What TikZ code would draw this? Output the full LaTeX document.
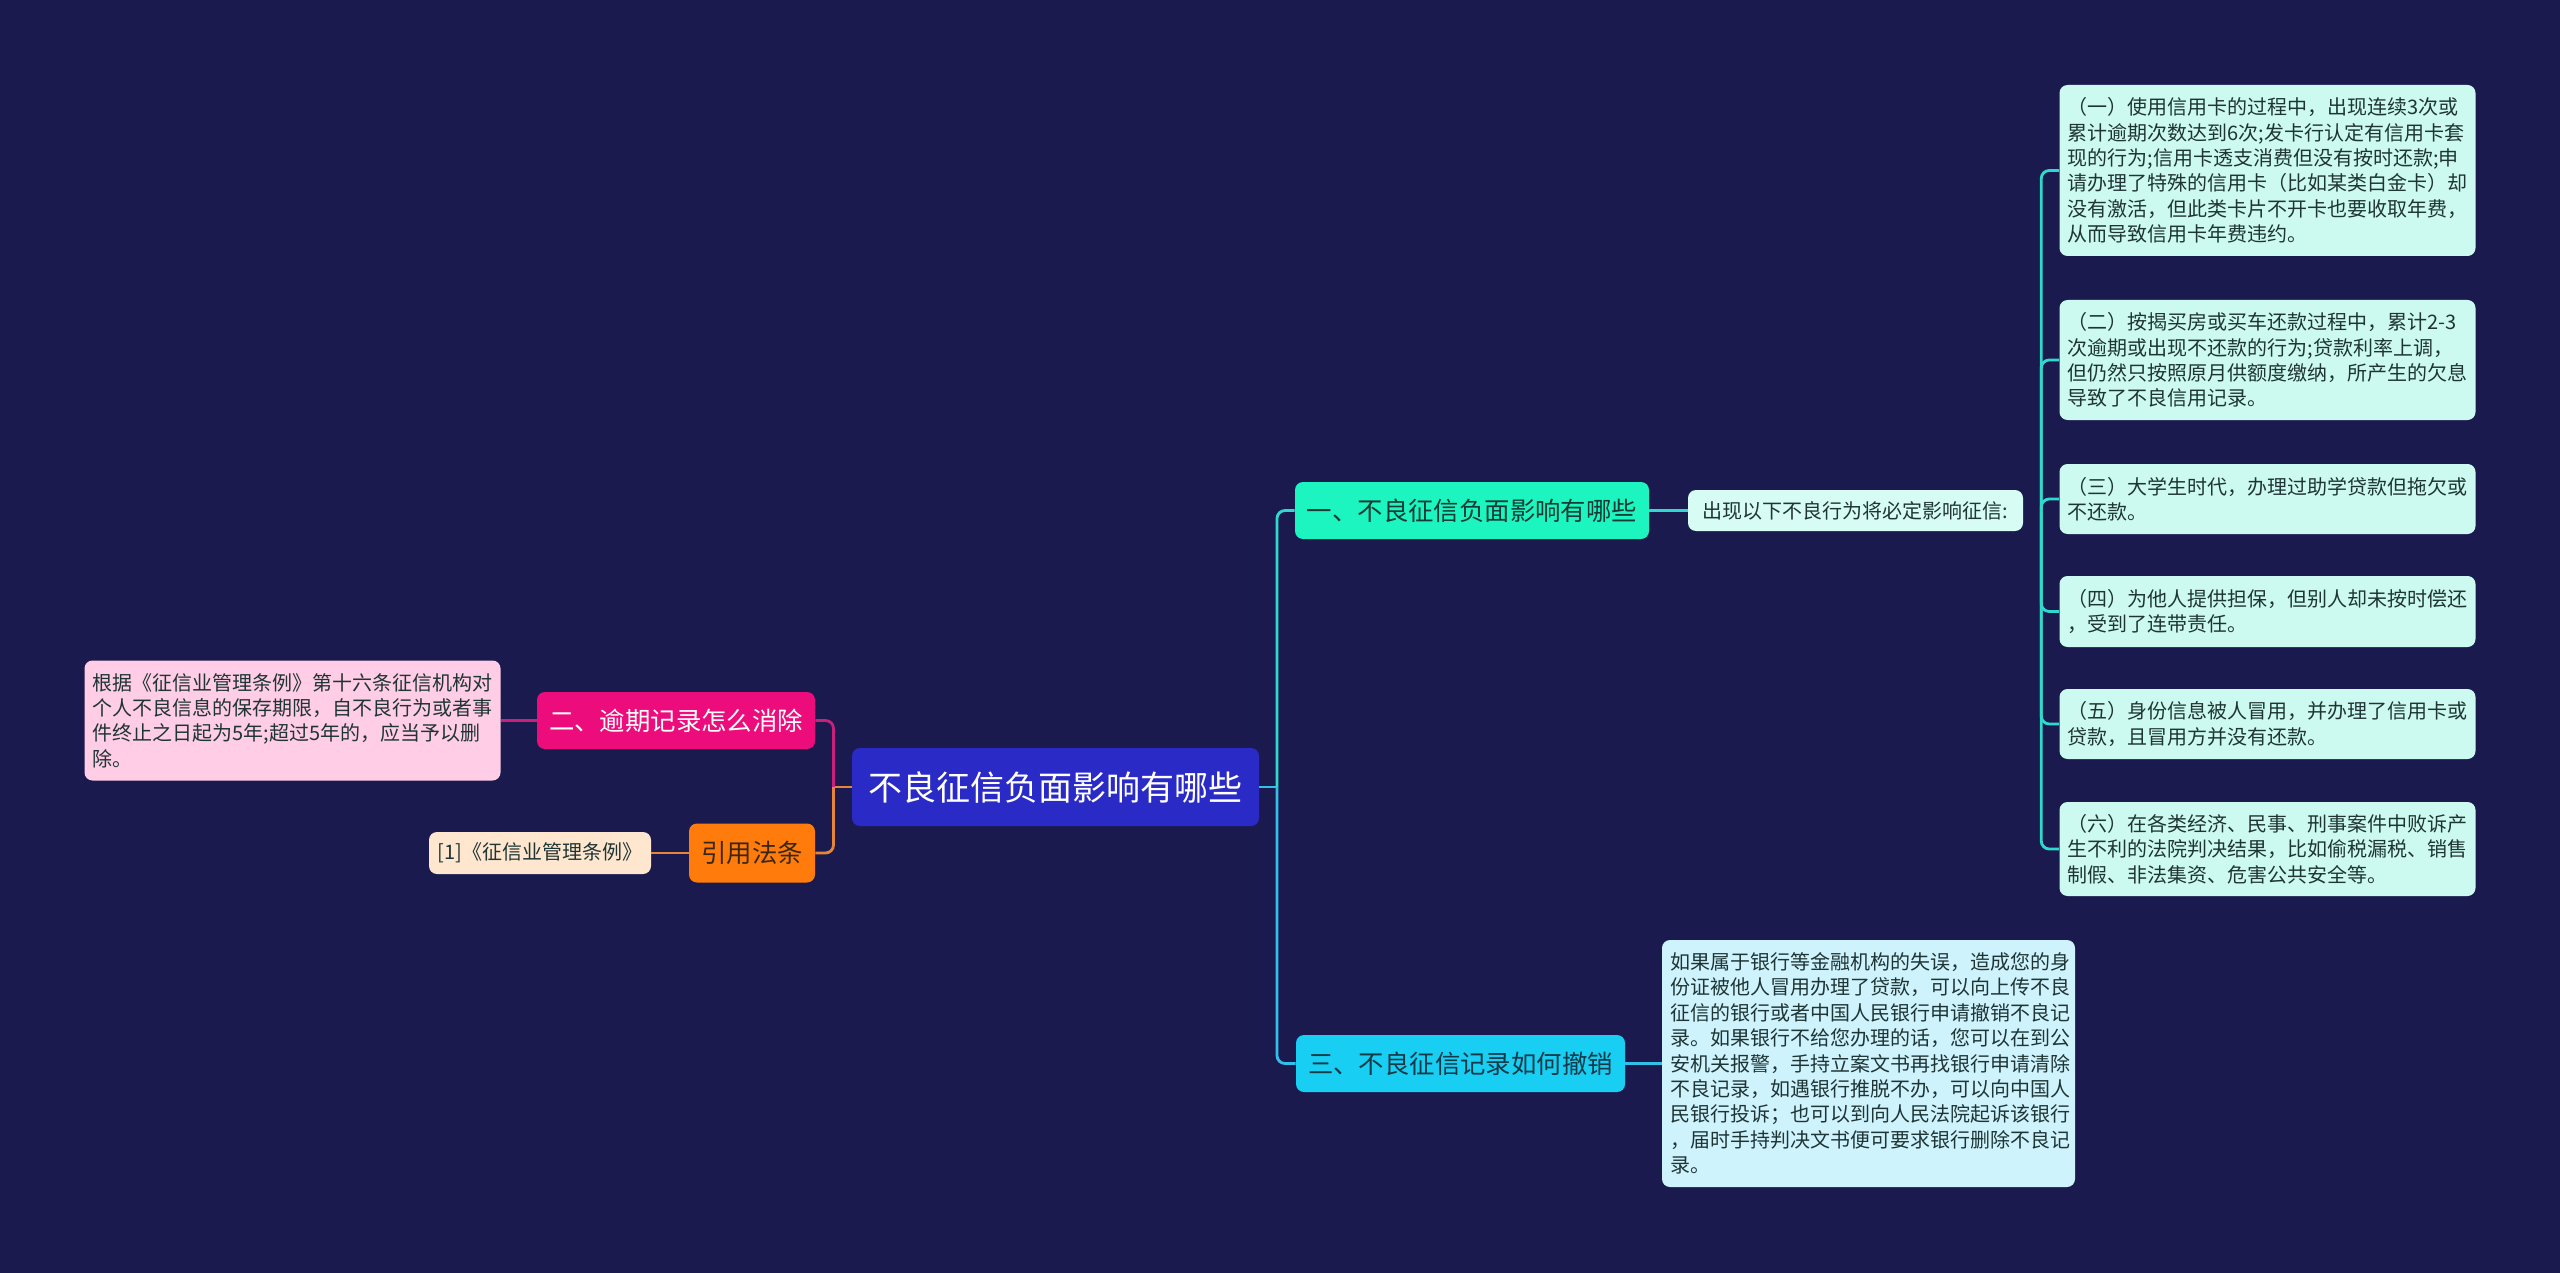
\documentclass[tikz,border=0pt]{standalone}
\usepackage{fontspec}
\setmainfont{Noto Sans CJK SC}
\usepackage{xcolor}
\usepackage{tikz}
\usetikzlibrary{positioning,calc}
\definecolor{bgnavy}{HTML}{1B1A4F}
\definecolor{rootblue}{HTML}{2A2AC6}
\definecolor{mintA}{HTML}{1DF5C0}
\definecolor{inkA}{HTML}{163B34}
\definecolor{hotpink}{HTML}{EC0C7C}
\definecolor{tangerine}{HTML}{FF7B0B}
\definecolor{inkC}{HTML}{3B2710}
\definecolor{skyblue}{HTML}{18CEF2}
\definecolor{inkB}{HTML}{123A48}
\definecolor{mintpale}{HTML}{D6FCF3}
\definecolor{mintleaf}{HTML}{CCFAF0}
\definecolor{iceblue}{HTML}{CFF3FD}
\definecolor{blush}{HTML}{FFCDE6}
\definecolor{peach}{HTML}{FFE7CF}
\definecolor{inkleaf}{HTML}{1F3535}
\definecolor{tealline}{HTML}{2FD9CC}
\definecolor{cyanline}{HTML}{34BFEA}
\definecolor{pinkline}{HTML}{C9207C}
\definecolor{orangeline}{HTML}{E6843A}

\begin{document}
\begin{tikzpicture}[
    x=0.5pt, y=-0.5pt,
    rootbox/.style={fill=rootblue, text=white, rounded corners=4pt, minimum width=203.5pt, minimum height=39pt, font=\fontsize{17}{20}\selectfont},
    topic/.style={rounded corners=4pt, align=center, minimum height=28.5pt, inner sep=2pt, font=\fontsize{12.7}{15}\selectfont},
    note/.style={rounded corners=4pt, text=inkleaf, align=center, inner sep=2pt, font=\fontsize{10}{12}\selectfont},
    leaf/.style={rounded corners=4pt, text=inkleaf, align=left, text width=200pt, inner xsep=4pt, inner ysep=4pt, font=\fontsize{10}{12.7}\selectfont},
    link/.style={line width=1.4pt, rounded corners=4pt}
]
    \fill[bgnavy] (0,0) rectangle (2560,1273);
    \useasboundingbox (0,0) rectangle (2560,1273);

    % centre
    \node[rootbox] (root) at (1055.5,787) {不良征信负面影响有哪些};

    % main branches
    \node[topic, fill=mintA, text=inkA, minimum width=177pt] (neg) at (1472,510.5) {一、不良征信负面影响有哪些};
    \node[topic, fill=hotpink, text=white, minimum width=139pt] (erase) at (676,720.5) {二、逾期记录怎么消除};
    \node[topic, fill=tangerine, text=inkC, minimum width=63pt, minimum height=29.5pt] (law) at (752,853) {引用法条};
    \node[topic, fill=skyblue, text=inkB, minimum width=164.5pt] (revoke) at (1460.5,1063.5) {三、不良征信记录如何撤销};

    % details
    \node[note, fill=mintpale, minimum width=167.5pt, minimum height=20.5pt] (cause) at (1855.5,510.5) {出现以下不良行为将必定影响征信:};
    \node[note, fill=peach, minimum width=111pt, minimum height=21pt] (ref) at (540,853) {[1]《征信业管理条例》};

    \node[leaf, fill=mintleaf, minimum height=85.5pt] (c1) at (2267.5,170.5) {（一）使用信用卡的过程中，出现连续3次或\\累计逾期次数达到6次;发卡行认定有信用卡套\\现的行为;信用卡透支消费但没有按时还款;申\\请办理了特殊的信用卡（比如某类白金卡）却\\没有激活，但此类卡片不开卡也要收取年费，\\从而导致信用卡年费违约。};
    \node[leaf, fill=mintleaf, minimum height=60pt] (c2) at (2267.5,360) {（二）按揭买房或买车还款过程中，累计2-3\\次逾期或出现不还款的行为;贷款利率上调，\\但仍然只按照原月供额度缴纳，所产生的欠息\\导致了不良信用记录。};
    \node[leaf, fill=mintleaf, minimum height=35pt] (c3) at (2267.5,499) {（三）大学生时代，办理过助学贷款但拖欠或\\不还款。};
    \node[leaf, fill=mintleaf, minimum height=35.5pt] (c4) at (2267.5,611.5) {（四）为他人提供担保，但别人却未按时偿还\\，受到了连带责任。};
    \node[leaf, fill=mintleaf, minimum height=35pt] (c5) at (2267.5,724) {（五）身份信息被人冒用，并办理了信用卡或\\贷款，且冒用方并没有还款。};
    \node[leaf, fill=mintleaf, minimum height=47pt] (c6) at (2267.5,849) {（六）在各类经济、民事、刑事案件中败诉产\\生不利的法院判决结果，比如偷税漏税、销售\\制假、非法集资、危害公共安全等。};

    \node[leaf, fill=iceblue, text width=198.5pt, minimum height=123.5pt] (undo) at (1868.5,1063.5) {如果属于银行等金融机构的失误，造成您的身\\份证被他人冒用办理了贷款，可以向上传不良\\征信的银行或者中国人民银行申请撤销不良记\\录。如果银行不给您办理的话，您可以在到公\\安机关报警，手持立案文书再找银行申请清除\\不良记录，如遇银行推脱不办，可以向中国人\\民银行投诉；也可以到向人民法院起诉该银行\\，届时手持判决文书便可要求银行删除不良记\\录。};

    \node[leaf, fill=blush, minimum height=60pt] (keep) at (292.5,720.5) {根据《征信业管理条例》第十六条征信机构对\\个人不良信息的保存期限，自不良行为或者事\\件终止之日起为5年;超过5年的，应当予以删\\除。};

    % right side links
    \path (root.east) -- (neg.west |- root.east) coordinate[midway] (rj);
    \draw[link, draw=cyanline] (root.east) -- (rj);
    \draw[link, draw=tealline] (rj) |- (neg.west);
    \draw[link, draw=cyanline] (rj) |- (revoke.west);
    \draw[link, draw=tealline] (neg) -- (cause);
    \draw[link, draw=cyanline] (revoke) -- (undo);
    \path (cause.east) -- (c1.west |- cause.east) coordinate[midway] (cj);
    \foreach \k in {1,...,6}
        \draw[link, draw=tealline] (cj) |- (c\k.west);

    % left side links
    \path (root.west) -- (erase.east |- root.west) coordinate[midway] (lj);
    \draw[link, draw=orangeline] (root.west) -- (lj);
    \draw[link, draw=pinkline] (lj) |- (erase.east);
    \draw[link, draw=orangeline] (lj) |- (law.east);
    \draw[link, draw=pinkline] (erase) -- (keep);
    \draw[link, draw=orangeline] (law) -- (ref);
\end{tikzpicture}
\end{document}
